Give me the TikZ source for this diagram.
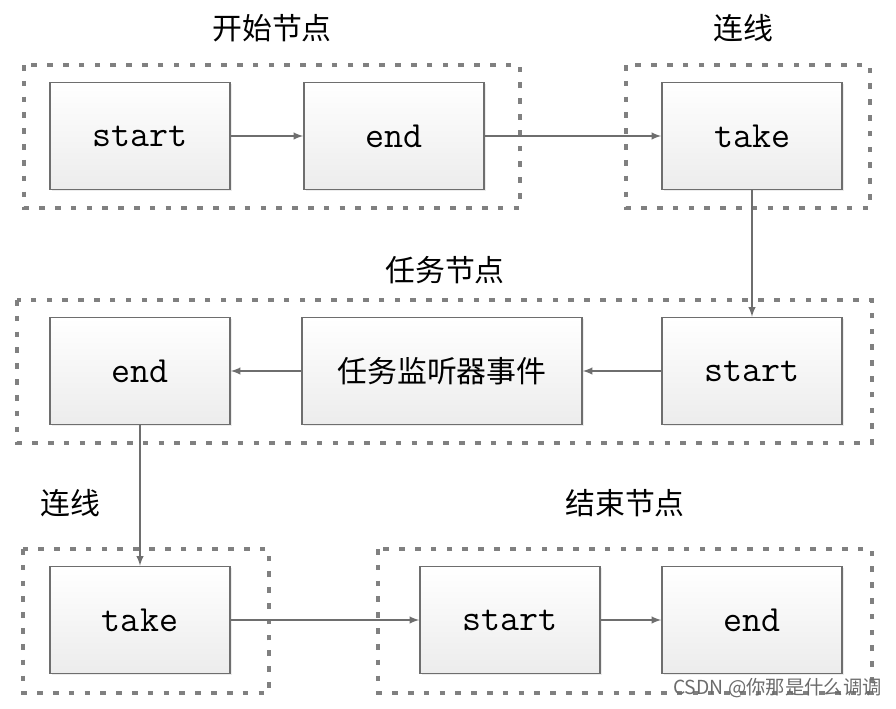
\documentclass[tikz,border=0pt]{standalone}
\usepackage{fontspec}
\newfontfamily\cjk{Noto Sans CJK SC}
\usetikzlibrary{shadows}
\definecolor{linegray}{HTML}{6E6E6E}
\definecolor{boxgray}{HTML}{ECECEC}
\definecolor{dotgray}{HTML}{808080}

\begin{document}
\begin{tikzpicture}[x=0.02cm,y=-0.02cm,>=latex]
\tikzstyle{every node}+=[inner sep=0pt]
\tikzstyle{box}=[draw=linegray, line width=0.9pt, top color=white, bottom color=boxgray,
  minimum width=3.6cm, minimum height=2.14cm, font=\fontsize{21}{25}\selectfont\ttfamily,
  drop shadow={opacity=0.15, shadow xshift=1pt, shadow yshift=-1pt}]
\tikzstyle{group}=[draw=dotgray, line width=2.2pt, dash pattern=on 3.2pt off 5.8pt]
\tikzstyle{link}=[draw=linegray, line width=0.9pt, ->]
\tikzstyle{title}=[font=\fontsize{17}{20}\selectfont\cjk]
\useasboundingbox (0,0) rectangle (896,708);
% groups
\draw[group] (24,65) rectangle (520,208);
\draw[group] (626,65) rectangle (870,208);
\draw[group] (17,300) rectangle (872,443);
\draw[group] (23,549) rectangle (269,693);
\draw[group] (378,549) rectangle (872,693);
\node[title] (g1) at (272,28) {开始节点};
\node[title] (g2) at (743,28) {连线};
\node[title] (g3) at (445,270) {任务节点};
\node[title] (g4) at (70,503) {连线};
\node[title] (g5) at (625,503) {结束节点};
% boxes
\node[box] (s1) at (140,136) {start};
\node[box] (e1) at (394,136) {end};
\node[box] (t1) at (752,136) {take};
\node[box] (s2) at (752,371) {start};
\node[box, minimum width=5.6cm, font=\fontsize{17}{20}\selectfont\cjk] (l2) at (442,371) {任务监听器事件};
\node[box] (e2) at (140,371) {end};
\node[box] (t3) at (140,620) {take};
\node[box] (s3) at (510,620) {start};
\node[box] (e3) at (752,620) {end};
% links
\draw[link] (s1) -- (e1);
\draw[link] (e1) -- (t1);
\draw[link] (t1) -- (s2);
\draw[link] (s2) -- (l2);
\draw[link] (l2) -- (e2);
\draw[link] (e2) -- (t3);
\draw[link] (t3) -- (s3);
\draw[link] (s3) -- (e3);
\node[anchor=east, font=\fontsize{11}{13}\selectfont\cjk, text=gray!85!black] (wm) at (882,688) {CSDN @你那是什么调调};
\end{tikzpicture}
\end{document}
